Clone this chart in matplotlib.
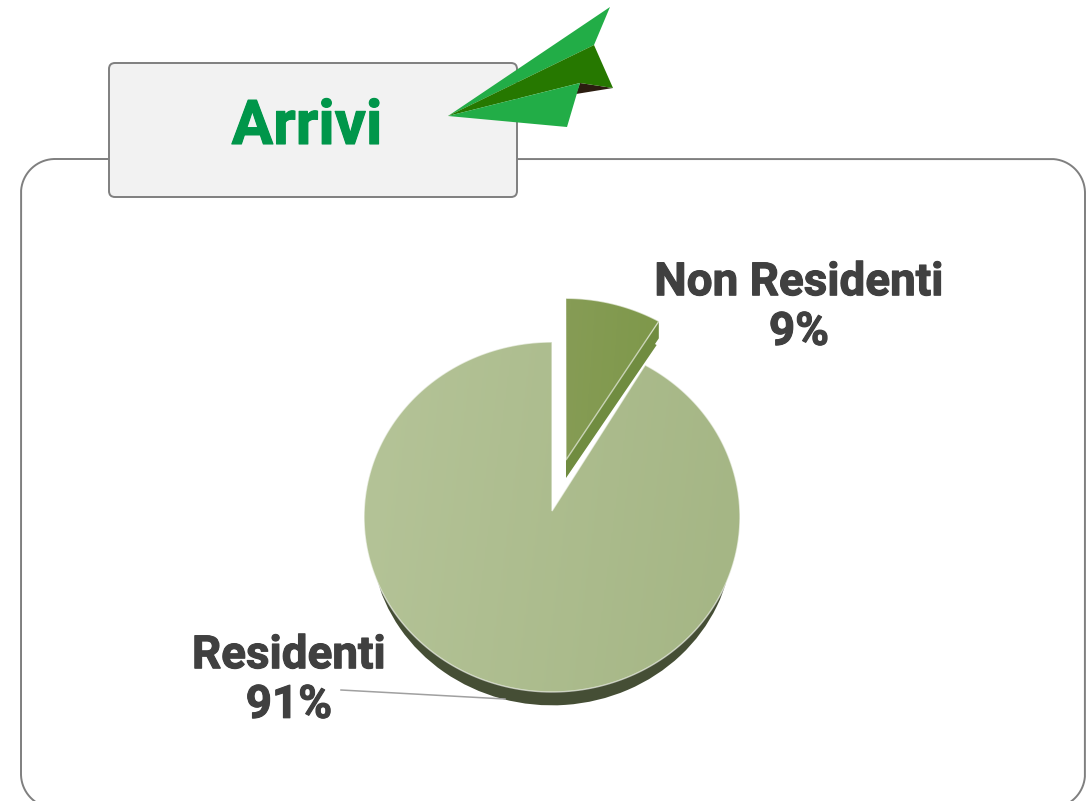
import numpy as np
import matplotlib
matplotlib.use("Agg")
import matplotlib.pyplot as plt
import matplotlib.patheffects as pe
from matplotlib.patches import FancyBboxPatch, Polygon
from matplotlib.colors import LinearSegmentedColormap

# --- data ---
categories = ["Non Residenti", "Residenti"]
values = [9, 91]
pct_labels = ["9%", "91%"]
title = "Arrivi"

W, H = 1092, 801
FONT = "Roboto"
fig = plt.figure(figsize=(W / 100, H / 100), dpi=100, facecolor="white")

# pie geometry in pixels
CX, CY, RX, RY = 552, 517, 188, 175
def nx(px): return (px - CX) / RX
def ny(py): return (CY - py) / RY

ax_pie = fig.add_axes([0, 0, 1, 1], zorder=1)
ax_top = fig.add_axes([0, 0, 1, 1], zorder=2)
ax_top.set_xlim(0, W); ax_top.set_ylim(H, 0); ax_top.axis("off")
ax_top.patch.set_visible(False)

# side (depth) of the pie, drawn by the library from the values
explode = [0.26, 0]
wedges, _ = ax_pie.pie(values, startangle=90, counterclock=False, explode=explode,
                       colors=["#708C40", "#454E35"], wedgeprops={"linewidth": 0})
wedges[0].set_center((nx(566), ny(478))); wedges[0].set_radius(0.90)
wedges[1].set_center((nx(552), ny(537))); wedges[1].set_radius(0.962)

ax_pie.set_aspect("auto")
ax_pie.set_xlim(nx(0), nx(W)); ax_pie.set_ylim(ny(H), ny(0))
ax_pie.axis("off"); ax_pie.patch.set_visible(False)

# top faces with soft gradients
fractions = np.cumsum([0] + values) / sum(values)
PERSP = 0.917  # perspective squeeze of the first boundary
def arc(t0, t1, ox=0.0, oy=0.0, n=240):
    t = np.linspace(t0, t1, n)
    return np.column_stack([ox + np.sin(t), oy + np.cos(t)])

mid = np.pi * fractions[1]
ox, oy = explode[0] * np.sin(mid), explode[0] * np.cos(mid)
b = 2 * np.pi * fractions[1] * PERSP
slice_poly = np.vstack([[nx(566), ny(460)], arc(0, b, ox, oy)])
main_poly = np.vstack([[nx(552), ny(511)], arc(b, 2 * np.pi)])

def gradient_face(poly, c0, c1, zorder):
    cmap = LinearSegmentedColormap.from_list("g", [c0, c1])
    g = np.linspace(0, 1, 256)[None, :] + np.linspace(-0.06, 0.06, 256)[:, None]
    x0, x1, y0, y1 = poly[:, 0].min(), poly[:, 0].max(), poly[:, 1].min(), poly[:, 1].max()
    im = ax_pie.imshow(g, cmap=cmap, vmin=0, vmax=1, extent=(x0, x1, y0, y1),
                       aspect="auto", zorder=zorder, interpolation="bilinear")
    clip = Polygon(poly, closed=True, transform=ax_pie.transData, fc="none", ec="none")
    ax_pie.add_patch(clip)
    im.set_clip_path(clip)
    ax_pie.add_patch(Polygon(poly, closed=True, fc="none", ec="white", lw=1.0,
                             alpha=0.6, zorder=zorder + 1))

gradient_face(main_poly, "#B4C397", "#A5B685", 3)

# extruded side of the pulled-out slice, along its straight edge
apex, tip = slice_poly[0], slice_poly[-1]
depth = 17 / RY
ax_pie.add_patch(Polygon([apex, tip, tip - [0, depth], apex - [0, depth]], closed=True,
                         fc="#708C40", ec="none", zorder=4))
gradient_face(slice_poly, "#869C55", "#7E984A", 5)
ax_pie.set_xlim(nx(0), nx(W)); ax_pie.set_ylim(ny(H), ny(0))
ax_pie.set_aspect("auto")

# outer frame: rounded outline that runs off the bottom of the picture
L, R, T, B, CR = 21, 1085, 159, 808, 34
def corner(cx, cy, a0, a1, n=40):
    a = np.radians(np.linspace(a0, a1, n))
    return np.column_stack([cx + CR * np.cos(a), cy - CR * np.sin(a)])
frame = np.vstack([corner(L + CR, B - CR, 270, 180), corner(L + CR, T + CR, 180, 90),
                   corner(R - CR, T + CR, 90, 0), corner(R - CR, B - CR, 0, -90)])
ax_top.plot(frame[:, 0], frame[:, 1], color="#7F7F7F", lw=1.4, zorder=1)

ax_top.add_patch(FancyBboxPatch((109, 63), 408, 134, boxstyle="round,pad=0,rounding_size=6",
                                fc="#F2F2F2", ec="#7F7F7F", lw=1.4, zorder=2))

# paper plane
ax_top.add_patch(Polygon([(448, 116), (610, 7), (594, 45)], fc="#22AD47", ec="none", zorder=3))
ax_top.add_patch(Polygon([(580, 83), (613, 88), (576, 94)], fc="#2B1D10", ec="none", zorder=3))
ax_top.add_patch(Polygon([(448, 116), (594, 45), (613, 88), (580, 83)], fc="#267800", ec="none", zorder=3))
ax_top.add_patch(Polygon([(448, 116), (580, 83), (567, 127)], fc="#22AD47", ec="none", zorder=4))

# texts
heavy = [pe.withStroke(linewidth=0.8, foreground="#404040")]
ax_top.text(307, 127, title, color="#00964A", fontsize=44.5, fontweight="bold", family=FONT,
            ha="center", va="center", zorder=5,
            path_effects=[pe.withStroke(linewidth=0.8, foreground="#00964A")])
ax_top.text(799, 307, f"{categories[0]}\n{pct_labels[0]}", color="#404040", fontsize=33,
            fontweight="bold", family=FONT, ha="center", va="center", linespacing=1.16,
            zorder=5, path_effects=heavy)
ax_top.text(289, 680, f"{categories[1]}\n{pct_labels[1]}", color="#404040", fontsize=33,
            fontweight="bold", family=FONT, ha="center", va="center", linespacing=1.16,
            zorder=5, path_effects=heavy)

# leader line
ax_top.plot([341, 505], [690, 699], color="#A0A0A0", lw=1.1, zorder=5)

fig.savefig("out.png", dpi=100, facecolor="white")
